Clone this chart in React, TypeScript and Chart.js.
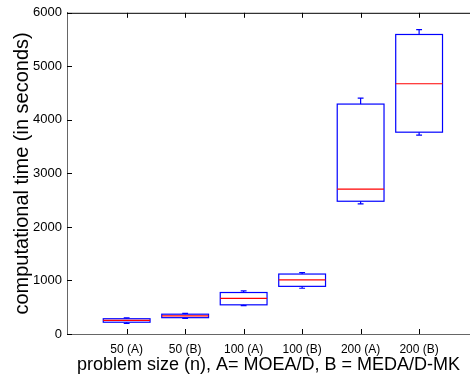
import React, { useEffect, useRef } from "react";
import { Chart, registerables } from "chart.js";

Chart.register(...registerables);

// Computational time (seconds) per problem size and algorithm
const categories = ["50 (A)", "50 (B)", "100 (A)", "100 (B)", "200 (A)", "200 (B)"];
const whiskerLow = [200, 290, 530, 855, 2430, 3715];
const quartile1 = [220, 305, 545, 890, 2480, 3770];
const medians = [255, 340, 665, 1010, 2705, 4675];
const quartile3 = [285, 370, 775, 1120, 4295, 5595];
const whiskerHigh = [300, 385, 805, 1145, 4405, 5685];
const yTickValues = [0, 1000, 2000, 3000, 4000, 5000, 6000];

const BOX_HALF = 0.4;
const CAP_HALF = 0.05;
const BLUE = "rgb(0,0,255)";
const RED = "rgb(255,0,0)";
const FONT = "'Liberation Sans', Arial, Helvetica, sans-serif";

const boxPlot = {
  id: "boxPlot",
  afterDatasetsDraw(chart: any) {
    const { ctx, scales } = chart;
    const x = scales.x;
    const y = scales.y;
    ctx.save();
    ctx.lineWidth = 1.2;
    categories.forEach((_, i) => {
      const c = i + 1;
      const xc = x.getPixelForValue(c);
      const xl = x.getPixelForValue(c - BOX_HALF);
      const xr = x.getPixelForValue(c + BOX_HALF);
      const cl = x.getPixelForValue(c - CAP_HALF);
      const cr = x.getPixelForValue(c + CAP_HALF);
      const yLo = y.getPixelForValue(whiskerLow[i]);
      const yQ1 = y.getPixelForValue(quartile1[i]);
      const yMed = y.getPixelForValue(medians[i]);
      const yQ3 = y.getPixelForValue(quartile3[i]);
      const yHi = y.getPixelForValue(whiskerHigh[i]);

      ctx.strokeStyle = BLUE;
      ctx.beginPath();
      ctx.moveTo(xc, yQ3);
      ctx.lineTo(xc, yHi);
      ctx.moveTo(cl, yHi);
      ctx.lineTo(cr, yHi);
      ctx.moveTo(xc, yQ1);
      ctx.lineTo(xc, yLo);
      ctx.moveTo(cl, yLo);
      ctx.lineTo(cr, yLo);
      ctx.stroke();
      ctx.strokeRect(xl, yQ3, xr - xl, yQ1 - yQ3);

      ctx.strokeStyle = RED;
      ctx.beginPath();
      ctx.moveTo(xl, yMed);
      ctx.lineTo(xr, yMed);
      ctx.stroke();
    });
    ctx.restore();
  },
};

// Inward tick marks and the top frame line
const frame = {
  id: "frame",
  afterDraw(chart: any) {
    const { ctx, chartArea, scales } = chart;
    const { left, right, top, bottom } = chartArea;
    const x = scales.x;
    const y = scales.y;
    const len = 5;
    ctx.save();
    ctx.lineWidth = 1;
    ctx.strokeStyle = "#000";
    ctx.beginPath();
    ctx.moveTo(left, top + 0.5);
    ctx.lineTo(right, top + 0.5);
    yTickValues.forEach((v) => {
      const py = Math.round(y.getPixelForValue(v)) + 0.5;
      ctx.moveTo(left, py);
      ctx.lineTo(left + len, py);
    });
    categories.forEach((_, i) => {
      const px = Math.round(x.getPixelForValue(i + 1)) + 0.5;
      ctx.moveTo(px, bottom);
      ctx.lineTo(px, bottom - len);
      ctx.moveTo(px, top);
      ctx.lineTo(px, top + len);
    });
    ctx.stroke();
    ctx.restore();
  },
};

export default function App() {
  const canvasRef = useRef<HTMLCanvasElement | null>(null);

  useEffect(() => {
    const canvas = canvasRef.current;
    if (!canvas) return;
    const chart = new Chart(canvas, {
      type: "scatter",
      data: {
        datasets: [
          {
            data: medians.map((m, i) => ({ x: i + 1, y: m })),
            pointRadius: 0,
            showLine: false,
          },
        ],
      },
      options: {
        animation: false,
        responsive: false,
        devicePixelRatio: 1,
        layout: { padding: { top: 11, right: 0, left: 0, bottom: 0 } },
        plugins: { legend: { display: false }, tooltip: { enabled: false } },
        scales: {
          x: {
            type: "linear",
            min: -0.02,
            max: 6.87,
            grid: { display: false, drawTicks: false },
            border: { display: true, color: "#666", width: 1 },
            afterBuildTicks: (scale: any) => {
              scale.ticks = categories.map((_, i) => ({ value: i + 1 }));
            },
            afterFit: (scale: any) => {
              scale.height = 45;
            },
            ticks: {
              autoSkip: false,
              maxRotation: 0,
              padding: 8,
              color: "#000",
              font: { family: FONT, size: 12 },
              callback: (_v: any, index: number) => categories[index],
            },
            title: {
              display: true,
              text: "problem size (n), A= MOEA/D, B = MEDA/D-MK",
              color: "#000",
              font: { family: FONT, size: 18 },
              padding: { top: 0, bottom: 3 },
            },
          },
          y: {
            min: 0,
            max: 6000,
            grid: { display: false, drawTicks: false },
            border: { display: true, color: "#666", width: 1 },
            afterBuildTicks: (scale: any) => {
              scale.ticks = yTickValues.map((v) => ({ value: v }));
            },
            afterFit: (scale: any) => {
              scale.width = 67;
            },
            ticks: {
              padding: 5,
              color: "#000",
              font: { family: FONT, size: 13 },
              callback: (v: any) => String(v),
            },
            title: {
              display: true,
              text: "computational time (in seconds)",
              color: "#000",
              font: { family: FONT, size: 20 },
              padding: { top: 10, bottom: 0 },
            },
          },
        },
      },
      plugins: [boxPlot, frame],
    });
    return () => chart.destroy();
  }, []);

  return (
    <div style={{ position: "fixed", left: 0, top: 0, width: 470, height: 379, background: "#fff" }}>
      <canvas ref={canvasRef} width={470} height={379} />
    </div>
  );
}
